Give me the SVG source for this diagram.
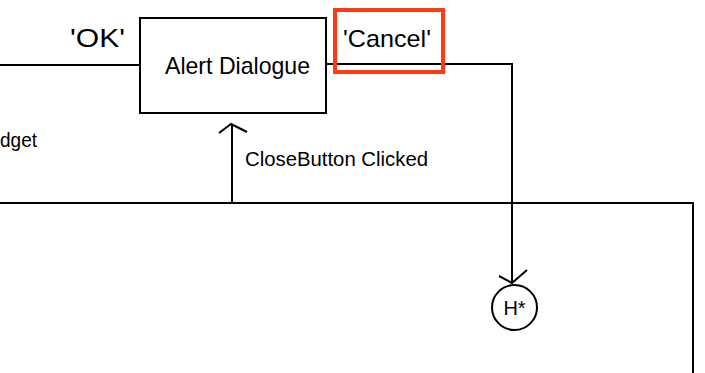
<svg xmlns="http://www.w3.org/2000/svg" width="705" height="373" viewBox="0 0 705 373">
<style>
.ln{fill:none;stroke:#000;stroke-width:2}
.t{font-family:"Liberation Sans",Arial,sans-serif;fill:#000}
</style>
<rect width="705" height="373" fill="#fff"/>
<g id="connectors">
<polyline class="ln" points="0,65 140,65"/>
<polyline class="ln" points="326,64 512,64 512,283"/>
<polyline class="ln" points="499,276 512,283 527,270"/>
<polyline class="ln" points="232,203 232,124"/>
<polyline class="ln" points="219,133 231,124 247,132"/>
<polyline class="ln" points="0,203 693,203 693,373"/>
<text class="t" x="70" y="47" font-size="26" textLength="55" lengthAdjust="spacingAndGlyphs">'OK'</text>
<text class="t" x="343" y="47" font-size="24" textLength="88" lengthAdjust="spacingAndGlyphs">'Cancel'</text>
<text class="t" x="245" y="166" font-size="20" textLength="183" lengthAdjust="spacingAndGlyphs">CloseButton Clicked</text>
<text class="t" x="0" y="147" font-size="20" textLength="37" lengthAdjust="spacingAndGlyphs">dget</text>
</g>
<g id="alert-dialogue">
<rect class="ln" x="140" y="18" width="186" height="95"/>
<text class="t" x="165" y="74" font-size="24" textLength="145" lengthAdjust="spacingAndGlyphs">Alert Dialogue</text>
</g>
<g id="cancel-highlight">
<rect x="335" y="10" width="108" height="62" fill="none" stroke="#ff3a12" stroke-width="4"/>
</g>
<g id="history">
<circle class="ln" cx="514.5" cy="307.5" r="22.5"/>
<text class="t" x="514.5" y="315" font-size="20" text-anchor="middle">H*</text>
</g>
</svg>
